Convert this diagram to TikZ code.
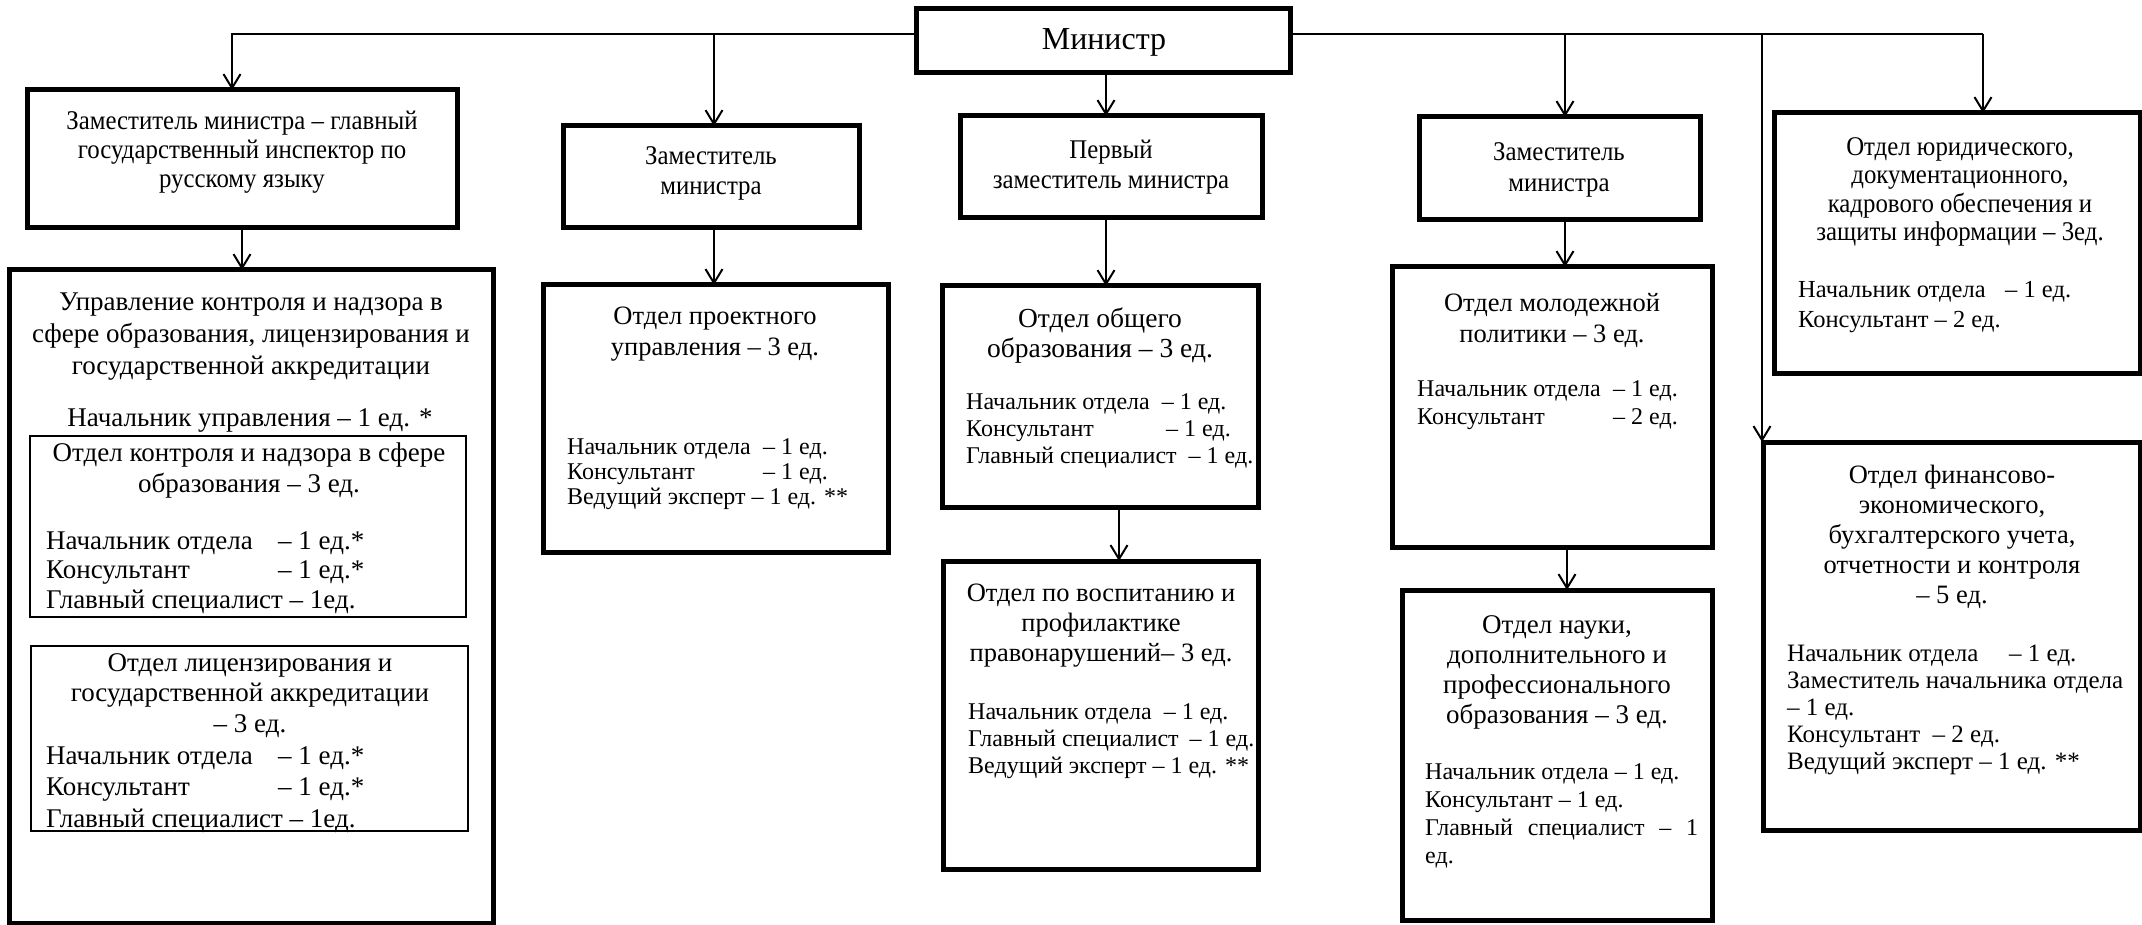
\documentclass[tikz,border=0pt]{standalone}
\usepackage{fontspec}
\setmainfont{Liberation Serif}
\newfontfamily\topfont[FakeStretch=0.92]{Liberation Serif}
\usetikzlibrary{arrows.meta}
\tikzset{
 box/.style={draw, line width=5pt, anchor=north west, inner sep=0pt, outer sep=0pt},
 ibox/.style={draw, line width=2.2pt, anchor=north west, inner sep=0pt, outer sep=0pt},
 conn/.style={line width=2pt, -{Straight Barb[length=14pt,width=17pt,line width=2pt]}},
 plain/.style={line width=2pt},
 ttl/.style={anchor=north, align=center, inner sep=0pt},
 stf/.style={anchor=north west, align=left, inner sep=0pt},
}
\newcommand{\fs}[2]{\fontsize{#1}{#2}\selectfont}
\newcommand{\tfs}[2]{\topfont\fontsize{#1}{#2}\selectfont}
\newcommand{\lbx}[2]{\makebox[#1pt][l]{#2}}
\begin{document}
\begin{tikzpicture}[x=1pt,y=-1pt]
\useasboundingbox (0,0) rectangle (2142,925);
% ---- boxes
\node[box, minimum width=374pt, minimum height=64pt] (mn) at (916,9) {};
\node[box, minimum width=430pt, minimum height=138pt] (z1) at (27,90) {};
\node[box, minimum width=296pt, minimum height=102pt] (z2) at (563,126) {};
\node[box, minimum width=302pt, minimum height=102pt] (pz) at (960,116) {};
\node[box, minimum width=281pt, minimum height=103pt] (z3) at (1419,117) {};
\node[box, minimum width=366pt, minimum height=260pt] (yu) at (1774,113) {};
\node[box, minimum width=484pt, minimum height=653pt] (up) at (9,270) {};
\node[ibox, minimum width=436pt, minimum height=181pt] (up1) at (30,436) {};
\node[ibox, minimum width=437pt, minimum height=185pt] (up2) at (31,646) {};
\node[box, minimum width=345pt, minimum height=267pt] (pr) at (543,285) {};
\node[box, minimum width=316pt, minimum height=221pt] (ob) at (942,286) {};
\node[box, minimum width=315pt, minimum height=308pt] (vo) at (943,561) {};
\node[box, minimum width=320pt, minimum height=280pt] (mo) at (1392,267) {};
\node[box, minimum width=310pt, minimum height=330pt] (na) at (1402,590) {};
\node[box, minimum width=377pt, minimum height=388pt] (fi) at (1763,442) {};
% ---- texts
\node[font=\fs{32}{36}, inner sep=0pt] (tmn) at (1104,42) {Министр};
\node[ttl, font=\tfs{27}{29}] (tz1) at (242,111) {Заместитель министра – главный\\государственный инспектор по\\русскому языку};
\node[ttl, font=\tfs{27}{30}] (tz2) at (711,146) {Заместитель\\министра};
\node[ttl, font=\tfs{27}{30}] (tpz) at (1111,140) {Первый\\заместитель министра};
\node[ttl, font=\tfs{27}{31}] (tz3) at (1559,142) {Заместитель\\министра};
\node[ttl, font=\tfs{27}{28.5}] (tyu) at (1960,137) {Отдел юридического,\\документационного,\\кадрового обеспечения и\\защиты информации – 3ед.};
\node[stf, font=\fs{24.5}{30}] (syu) at (1798,281) {\lbx{207}{Начальник отдела}– 1 ед.\\Консультант – 2 ед.};
\node[ttl, font=\fs{27}{32}] (tup) at (251,293) {Управление контроля и надзора в\\сфере образования, лицензирования и\\государственной аккредитации};
\node[ttl, font=\fs{27}{30}] (hup) at (250,408) {Начальник управления – 1 ед. *};
\node[ttl, font=\fs{27}{31}] (tup1) at (249,443) {Отдел контроля и надзора в сфере\\образования – 3 ед.};
\node[stf, font=\fs{27}{29.5}] (sup1) at (46,531) {\lbx{232}{Начальник отдела}– 1 ед.*\\\lbx{232}{Консультант}– 1 ед.*\\Главный специалист – 1ед.};
\node[ttl, font=\fs{27}{30.5}] (tup2) at (250,653) {Отдел лицензирования и\\государственной аккредитации\\– 3 ед.};
\node[stf, font=\fs{27}{31.5}] (sup2) at (46,746) {\lbx{232}{Начальник отдела}– 1 ед.*\\\lbx{232}{Консультант}– 1 ед.*\\Главный специалист – 1ед.};
\node[ttl, font=\fs{26.5}{31}] (tpr) at (715,307) {Отдел проектного\\управления – 3 ед.};
\node[stf, font=\fs{24}{25}] (spr) at (567,438) {\lbx{196}{Начальник отдела}– 1 ед.\\\lbx{196}{Консультант}– 1 ед.\\Ведущий эксперт – 1 ед. **};
\node[ttl, font=\fs{27.5}{30}] (tob) at (1100,308) {Отдел общего\\образования – 3 ед.};
\node[stf, font=\fs{24}{27}] (sob) at (966,393) {Начальник отдела\ \ – 1 ед.\\\lbx{200}{Консультант}– 1 ед.\\Главный специалист\ \ – 1 ед.};
\node[ttl, font=\fs{26.5}{30}] (tvo) at (1101,584) {Отдел по воспитанию и\\профилактике\\правонарушений– 3 ед.};
\node[stf, font=\fs{24}{27}] (svo) at (968,703) {Начальник отдела\ \ – 1 ед.\\Главный специалист\hspace{11pt}– 1 ед.\\Ведущий эксперт – 1 ед. **};
\node[ttl, font=\fs{26.5}{31}] (tmo) at (1552,293) {Отдел молодежной\\политики – 3 ед.};
\node[stf, font=\fs{24}{28}] (smo) at (1417,380) {\lbx{196}{Начальник отдела}– 1 ед.\\\lbx{196}{Консультант}– 2 ед.};
\node[ttl, font=\fs{27}{30}] (tna) at (1557,615) {Отдел науки,\\дополнительного и\\профессионального\\образования – 3 ед.};
\node[stf, font=\fs{24}{28}] (sna) at (1425,763) {Начальник отдела – 1 ед.\\Консультант – 1 ед.\\\makebox[273pt][s]{Главный\hfill специалист\hfill –\hfill 1}\\ед.};
\node[ttl, font=\fs{26.5}{30}] (tfi) at (1952,465) {Отдел финансово-\\экономического,\\бухгалтерского учета,\\отчетности и контроля\\– 5 ед.};
\node[stf, font=\fs{25}{27}] (sfi) at (1787,645) {\lbx{222}{Начальник отдела}– 1 ед.\\Заместитель начальника отдела\\– 1 ед.\\Консультант\ \ – 2 ед.\\Ведущий эксперт – 1 ед. **};
% ---- connector coordinates
\coordinate (ya) at (0,34);
\coordinate (xa) at (232,0);
\coordinate (xb) at (714,0);
\coordinate (xc) at (1106,0);
\coordinate (xd) at (1565,0);
\coordinate (xe) at (1762,0);
\coordinate (xr) at (1983,0);
\coordinate (xf) at (242,0);
\coordinate (xg) at (1119,0);
\coordinate (xh) at (1567,0);
% ---- connectors
\draw[conn] (mn.west |- ya) -| (xa |- z1.north);
\draw[plain] (mn.east |- ya) -- (xr |- ya);
\draw[conn] (xr |- ya) -- (xr |- yu.north);
\draw[conn] (xb |- ya) -- (xb |- z2.north);
\draw[conn] (xd |- ya) -- (xd |- z3.north);
\draw[conn] (xe |- ya) -- (xe |- fi.north);
\draw[conn] (xc |- mn.south) -- (xc |- pz.north);
\draw[conn] (xf |- z1.south) -- (xf |- up.north);
\draw[conn] (xb |- z2.south) -- (xb |- pr.north);
\draw[conn] (xc |- pz.south) -- (xc |- ob.north);
\draw[conn] (xg |- ob.south) -- (xg |- vo.north);
\draw[conn] (xd |- z3.south) -- (xd |- mo.north);
\draw[conn] (xh |- mo.south) -- (xh |- na.north);
\end{tikzpicture}
\end{document}
